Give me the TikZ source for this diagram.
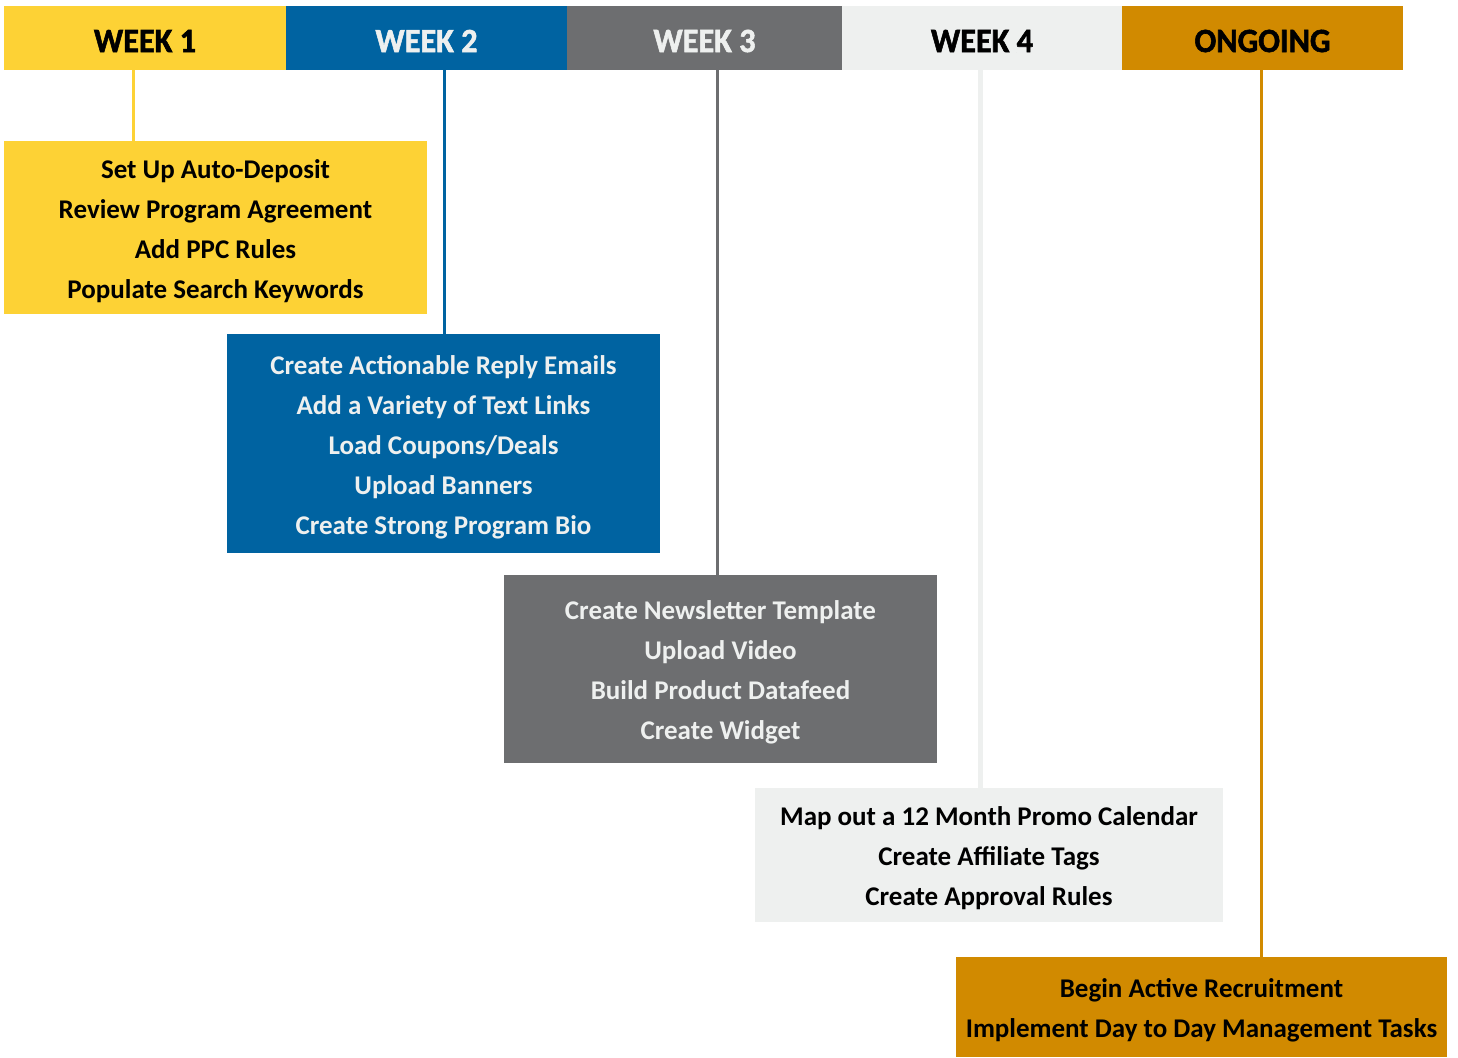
\documentclass[tikz,border=0pt]{standalone}
\usepackage{fontspec}
\setmainfont{Carlito}
\newfontfamily\bodyfont{Carlito}
\newfontfamily\hdfont[FakeStretch=0.95,BoldFeatures={FakeBold=1.6}]{Carlito}
\definecolor{wkyellow}{HTML}{FDD235}
\definecolor{wkblue}{HTML}{0063A1}
\definecolor{wkgray}{HTML}{6D6E70}
\definecolor{wklight}{HTML}{EEF0EF}
\definecolor{wkorange}{HTML}{D18A00}
\begin{document}
\begin{tikzpicture}[x=0.5pt,y=-0.5pt,
  hdr/.style={rectangle,inner sep=0pt,minimum width=140.5pt,minimum height=32pt},
  hdrtext/.style={inner sep=0pt,yshift=-1.5pt,
    font=\hdfont\bfseries\fontsize{17}{20}\selectfont},
  taskbox/.style={rectangle,inner sep=0pt},
  tasktext/.style={inner sep=0pt,align=center,yshift=-1.75pt,
    font=\bodyfont\bfseries\fontsize{13.5}{20}\selectfont},
  conn/.style={line width=1.5pt}]
\useasboundingbox[fill=white] (0,0) rectangle (1458,1057);
% headers
\node[hdr,fill=wkyellow,minimum width=141pt] (h1) at (145,38) {};
\node[hdr,fill=wkblue] (h2) at (426.5,38) {};
\node[hdr,fill=wkgray,minimum width=137.5pt] (h3) at (704.5,38) {};
\node[hdr,fill=wklight,minimum width=140pt] (h4) at (982,38) {};
\node[hdr,fill=wkorange] (h5) at (1262.5,38) {};
\node[hdrtext,text=black] (ht1) at (h1.center) {WEEK 1};
\node[hdrtext,text=wklight] (ht2) at (h2.center) {WEEK 2};
\node[hdrtext,text=wklight] (ht3) at (h3.center) {WEEK 3};
\node[hdrtext,text=black] (ht4) at (h4.center) {WEEK 4};
\node[hdrtext,text=black] (ht5) at (h5.center) {ONGOING};
% task boxes
\node[taskbox,fill=wkyellow,minimum width=211.5pt,minimum height=86.5pt] (b1) at (215.5,227.5) {};
\node[taskbox,fill=wkblue,minimum width=216.5pt,minimum height=109.5pt] (b2) at (443.5,443.5) {};
\node[taskbox,fill=wkgray,minimum width=216.5pt,minimum height=94pt] (b3) at (720.5,669) {};
\node[taskbox,fill=wklight,minimum width=234pt,minimum height=67pt] (b4) at (989,855) {};
\node[taskbox,fill=wkorange,minimum width=245.5pt,minimum height=50pt] (b5) at (1201.5,1007) {};
\node[tasktext,text=black] (t1) at (b1.center)
  {Set Up Auto-Deposit\\Review Program Agreement\\Add PPC Rules\\Populate Search Keywords};
\node[tasktext,text=wklight] (t2) at (b2.center)
  {Create Actionable Reply Emails\\Add a Variety of Text Links\\Load Coupons/Deals\\Upload Banners\\Create Strong Program Bio};
\node[tasktext,text=wklight] (t3) at (b3.center)
  {Create Newsletter Template\\Upload Video\\Build Product Datafeed\\Create Widget};
\node[tasktext,text=black] (t4) at (b4.center)
  {Map out a 12 Month Promo Calendar\\Create Affiliate Tags\\Create Approval Rules};
\node[tasktext,text=black] (t5) at (b5.center)
  {Begin Active Recruitment\\Implement Day to Day Management Tasks};
% connectors
\coordinate (x1) at (133,0);
\coordinate (x2) at (444,0);
\coordinate (x3) at (717,0);
\coordinate (x4) at (980,0);
\coordinate (x5) at (1261,0);
\draw[conn,wkyellow] (h1.south -| x1) -- (b1.north -| x1);
\draw[conn,wkblue] (h2.south -| x2) -- (b2.north -| x2);
\draw[conn,wkgray] (h3.south -| x3) -- (b3.north -| x3);
\draw[conn,wklight,line width=2.5pt] (h4.south -| x4) -- (b4.north -| x4);
\draw[conn,wkorange] (h5.south -| x5) -- (b5.north -| x5);
\end{tikzpicture}
\end{document}
